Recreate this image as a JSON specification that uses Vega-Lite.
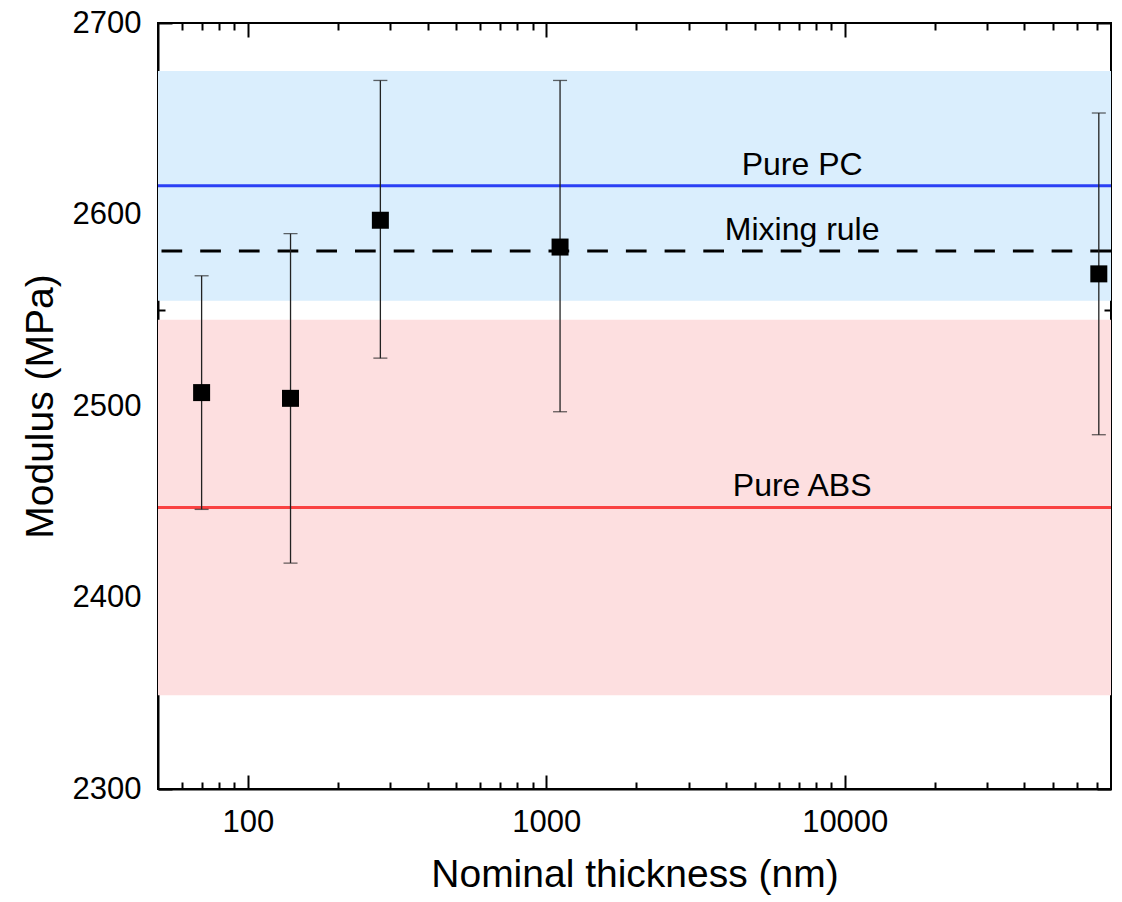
{
  "$schema": "https://vega.github.io/schema/vega-lite/v6.json",
  "width": 953,
  "height": 766,
  "autosize": "none",
  "padding": {"left": 158, "top": 23, "right": 11, "bottom": 113},
  "background": "white",
  "resolve": {"axis": {"x": "independent", "y": "independent"}},
  "config": {
    "view": {"stroke": "black", "strokeWidth": 2},
    "font": "Liberation Sans",
    "axis": {
      "zindex": 2,
      "grid": false,
      "domainColor": "black",
      "domainWidth": 2,
      "tickColor": "black",
      "tickWidth": 2,
      "labelColor": "black",
      "titleColor": "black",
      "labelFont": "Liberation Sans",
      "titleFont": "Liberation Sans",
      "labelFontSize": 31,
      "titleFontSize": 39,
      "titleFontWeight": "normal",
      "labelFlush": false,
      "labelOverlap": false
    }
  },
  "datasets": {
    "pts": [
      {"t": 70, "m": 2507, "lo": 2446, "hi": 2568},
      {"t": 139, "m": 2504, "lo": 2418, "hi": 2590},
      {"t": 278, "m": 2597, "lo": 2525, "hi": 2670},
      {"t": 1112, "m": 2583, "lo": 2497, "hi": 2670},
      {"t": 71000, "m": 2569, "lo": 2485, "hi": 2653}
    ],
    "bands": [
      {"band": "PC", "lo": 2555, "hi": 2675},
      {"band": "ABS", "lo": 2349, "hi": 2545}
    ],
    "lines": [
      {"name": "Pure PC", "v": 2615, "t": 7200},
      {"name": "Mixing rule", "v": 2581, "t": 7200},
      {"name": "Pure ABS", "v": 2447, "t": 7200}
    ]
  },
  "layer": [
    {
      "data": {"name": "bands"},
      "mark": {"type": "rect"},
      "encoding": {
        "y": {"field": "lo", "type": "quantitative", "scale": {"domain": [2300, 2700], "nice": false, "zero": false}, "axis": null},
        "y2": {"field": "hi"},
        "fill": {"field": "band", "type": "nominal", "scale": {"domain": ["PC", "ABS"], "range": ["#DAEEFD", "#FDDFE0"]}, "legend": null}
      }
    },
    {
      "data": {"name": "lines"},
      "mark": {"type": "rule", "strokeWidth": 3},
      "encoding": {
        "y": {"field": "v", "type": "quantitative", "axis": null},
        "stroke": {"field": "name", "type": "nominal", "scale": {"domain": ["Pure PC", "Mixing rule", "Pure ABS"], "range": ["#2B40F5", "#000000", "#FA4242"]}, "legend": null},
        "strokeDash": {"field": "name", "type": "nominal", "scale": {"domain": ["Pure PC", "Mixing rule", "Pure ABS"], "range": [[1, 0], [20.7, 18], [1, 0]]}, "legend": null}
      }
    },
    {
      "data": {"name": "pts"},
      "mark": {"type": "rule", "strokeWidth": 1.3, "color": "#222222"},
      "encoding": {
        "x": {"field": "t", "type": "quantitative", "scale": {"type": "log", "domain": [50, 78000], "nice": false},
          "axis": {"orient": "bottom", "labels": false, "title": null, "domain": false, "offset": -14,
            "values": [100, 1000, 10000], "tickSize": 14}},
        "y": {"field": "lo", "type": "quantitative",
          "axis": {"orient": "left", "labels": false, "title": null, "domain": false, "offset": -14,
            "values": [2300, 2400, 2500, 2600, 2700], "tickSize": 14}},
        "y2": {"field": "hi"}
      }
    },
    {
      "data": {"name": "pts"},
      "mark": {"type": "tick", "orient": "horizontal", "size": 14, "thickness": 1.3, "color": "#222222"},
      "encoding": {
        "x": {"field": "t", "type": "quantitative",
          "axis": {"orient": "bottom", "labels": false, "title": null, "domain": false, "offset": -7,
            "values": [60,70,80,90,200,300,400,500,600,700,800,900,2000,3000,4000,5000,6000,7000,8000,9000,20000,30000,40000,50000,60000,70000], "tickSize": 7}},
        "y": {"field": "hi", "type": "quantitative",
          "axis": {"orient": "left", "labels": false, "title": null, "domain": false, "offset": -7,
            "values": [2350, 2450, 2550, 2650], "tickSize": 7}}
      }
    },
    {
      "data": {"name": "pts"},
      "mark": {"type": "tick", "orient": "horizontal", "size": 14, "thickness": 1.3, "color": "#222222"},
      "encoding": {
        "x": {"field": "t", "type": "quantitative",
          "axis": {"orient": "top", "labels": false, "title": null, "domain": false, "offset": -14,
            "values": [100, 1000, 10000], "tickSize": 14}},
        "y": {"field": "lo", "type": "quantitative",
          "axis": {"orient": "right", "labels": false, "title": null, "domain": false, "offset": -14,
            "values": [2300, 2400, 2500, 2600, 2700], "tickSize": 14}}
      }
    },
    {
      "data": {"name": "pts"},
      "mark": {"type": "square", "size": 289, "filled": true, "color": "black", "opacity": 1},
      "encoding": {
        "x": {"field": "t", "type": "quantitative",
          "axis": {"orient": "bottom", "title": "Nominal thickness (nm)", "format": "d", "ticks": false, "domain": true,
            "values": [100, 1000, 10000], "labelPadding": 18, "titlePadding": 18}},
        "y": {"field": "m", "type": "quantitative",
          "axis": {"orient": "left", "title": "Modulus (MPa)", "format": "d", "ticks": false, "domain": true,
            "values": [2300, 2400, 2500, 2600, 2700], "labelPadding": 17, "titlePadding": 12}}
      }
    },
    {
      "data": {"name": "lines"},
      "mark": {"type": "text", "fontSize": 32, "align": "center", "baseline": "alphabetic", "dy": -11, "color": "black", "font": "Liberation Sans"},
      "encoding": {
        "x": {"field": "t", "type": "quantitative",
          "axis": {"orient": "top", "labels": false, "title": null, "domain": false, "offset": -7,
            "values": [60,70,80,90,200,300,400,500,600,700,800,900,2000,3000,4000,5000,6000,7000,8000,9000,20000,30000,40000,50000,60000,70000], "tickSize": 7}},
        "y": {"field": "v", "type": "quantitative",
          "axis": {"orient": "right", "labels": false, "title": null, "domain": false, "offset": -7,
            "values": [2350, 2450, 2550, 2650], "tickSize": 7}},
        "text": {"field": "name"}
      }
    }
  ]
}
